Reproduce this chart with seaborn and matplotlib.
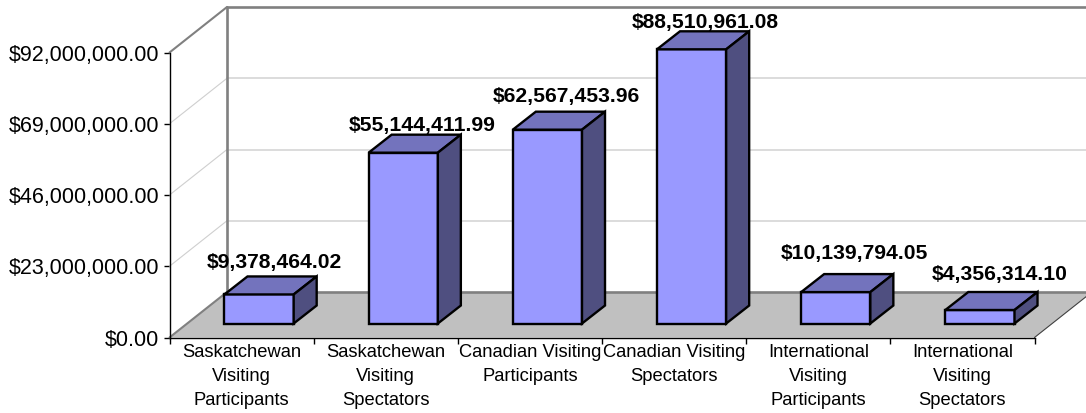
import seaborn as sns
import matplotlib.pyplot as plt
import pandas as pd
from matplotlib.patches import Polygon
from matplotlib.transforms import Affine2D
from textwrap import wrap

categories = ["Saskatchewan Visiting Participants", "Saskatchewan Visiting Spectators",
              "Canadian Visiting Participants", "Canadian Visiting Spectators",
              "International Visiting Participants", "International Visiting Spectators"]
values = [9378464.02, 55144411.99, 62567453.96, 88510961.08, 10139794.05, 4356314.10]
y_ticks = [0, 23000000, 46000000, 69000000, 92000000]

# label nudges off the bar top, in pixels
label_dx = [15, 19, 19, 14, 19, 20]
label_dy = [32, 27, 33, 27, 39, 36]

sns.set_style("white")
plt.rcParams['font.family'] = ['Liberation Sans', 'DejaVu Sans']

W, H = 1086, 413
fig = plt.figure(figsize=(W / 100, H / 100), dpi=100)
ax = fig.add_axes([169.5 / W, 1 - 337.5 / H, 865 / W, 285 / H])

df = pd.DataFrame({"cat": categories, "val": values})
sns.barplot(data=df, x="cat", y="val", ax=ax, width=0.48, color="#9999FF",
            saturation=1, edgecolor="black", linewidth=1.7, zorder=5)
ax.set_xlim(-0.5, 5.5)
ax.set_ylim(0, 92000000)


def shift(dx, dy):
    return ax.transData + Affine2D().translate(dx, dy)


# depth of the 3d box in pixels
wall_dx, wall_dy = 57.5, 45.5
back = shift(wall_dx, wall_dy)

# floor
ax.add_patch(Polygon([(-0.5, 0), (5.5, 0), (5.5 + wall_dx / 144.17, 92000000 * wall_dy / 285),
                      (-0.5 + wall_dx / 144.17, 92000000 * wall_dy / 285)],
                     closed=True, fc="#C0C0C0", ec="none", clip_on=False, zorder=1))

# gridlines on the back wall and the left side
for t in y_ticks[1:-1]:
    ax.plot([-0.5, 5.5], [t, t], color="#D9D9D9", lw=1.3, transform=back, clip_on=False, zorder=2)
    ax.plot([-0.5, -0.5 + wall_dx / 144.17], [t, t + 92000000 * wall_dy / 285],
            color="#CFCFCF", lw=0.8, clip_on=False, zorder=2)

# wall outline
ax.plot([-0.5, -0.5], [0, 92000000], color="#808080", lw=1.9, transform=back, clip_on=False, zorder=3)
ax.plot([-0.5, 5.5], [92000000, 92000000], color="#808080", lw=1.9, transform=back, clip_on=False, zorder=3)
ax.plot([-0.5, 5.5], [0, 0], color="#808080", lw=1.9, transform=back, clip_on=False, zorder=3)
for t in [0, 92000000]:
    ax.plot([-0.5, -0.5 + wall_dx / 144.17], [t, t + 92000000 * wall_dy / 285],
            color="#808080", lw=1.5, clip_on=False, zorder=3)
ax.plot([5.5, 5.5 + wall_dx / 144.17], [0, 92000000 * wall_dy / 285],
        color="#404040", lw=0.8, clip_on=False, zorder=3)

# 3d faces of each bar, built on the seaborn patches
bar_dx, bar_dy = 17.5, 14
depth_x, depth_y = 23, 18
front = shift(bar_dx, bar_dy)
for bar, dx, dy, v in zip(ax.patches[:6], label_dx, label_dy, values):
    x0, x1 = bar.get_x(), bar.get_x() + bar.get_width()
    h = bar.get_height()
    d = depth_x / 144.17
    e = 92000000 * depth_y / 285
    bar.set_transform(front)
    bar.set_clip_on(False)
    ax.add_patch(Polygon([(x0, h), (x1, h), (x1 + d, h + e), (x0 + d, h + e)], closed=True,
                         fc="#7373BD", ec="black", lw=1.7, transform=front, clip_on=False, zorder=6))
    ax.add_patch(Polygon([(x1, 0), (x1 + d, e), (x1 + d, h + e), (x1, h)], closed=True,
                         fc="#4F4F80", ec="black", lw=1.7, transform=front, clip_on=False, zorder=6))
    ax.annotate(f"${v:,.2f}", xy=((x0 + x1) / 2, h), xycoords=front, xytext=(dx, dy),
                textcoords="offset pixels", ha="center", va="center",
                fontsize=15.2, fontweight="bold", color="black", zorder=7)

for s in ["top", "right"]:
    ax.spines[s].set_visible(False)
for s in ["left", "bottom"]:
    ax.spines[s].set_color("black")
    ax.spines[s].set_linewidth(1.0)
    ax.spines[s].set_zorder(4)

ax.set_xlabel("")
ax.set_ylabel("")
ax.set_yticks(y_ticks)
ax.set_yticklabels([f"${t:,.2f}" for t in y_ticks], fontsize=15.5, color="black")
ax.set_xticks(range(6))
ax.set_xticklabels(['\n'.join(wrap(l, 17)) for l in categories], fontsize=13.2,
                   color="black", linespacing=1.53)
ax.set_xticks([i - 0.5 for i in range(7)], minor=True)
ax.tick_params(axis="y", length=4.5, width=1, color="black", left=True, pad=3)
ax.tick_params(axis="x", which="major", length=0, pad=5)
ax.tick_params(axis="x", which="minor", length=4.5, width=1, color="black", bottom=True)
ax.patch.set_alpha(0)

plt.savefig("out.png", dpi=100)
